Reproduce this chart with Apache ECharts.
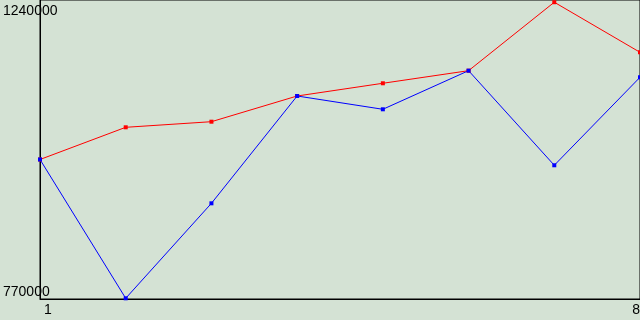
<!DOCTYPE html>
<html>
<head>
<meta charset="utf-8">
<script src="https://cdn.jsdelivr.net/npm/echarts@6/dist/echarts.min.js"></script>
<style>
html,body{margin:0;padding:0;background:#d4e2d4;}
#c{width:640px;height:320px;}
</style>
</head>
<body>
<div id="c"></div>
<script>
const xValues = [1, 2, 3, 4, 5, 6, 7, 8];
const redSeries = [989300, 1039900, 1048700, 1089100, 1109100, 1128900, 1236500, 1157800];
const blueSeries = [989300, 771100, 920400, 1089100, 1068200, 1128900, 980200, 1118500];
const yMin = 770000, yMax = 1240000;
const xMin = 1, xMax = 8;

const chart = echarts.init(document.getElementById('c'), null, {renderer: 'canvas'});
const font = '"Liberation Sans", Arial, sans-serif';
chart.setOption({
  animation: false,
  backgroundColor: '#d4e2d4',
  grid: {left: 40, top: 0, right: 0, bottom: 21, containLabel: false, outerBoundsMode: 'none',
         show: true, borderColor: '#000', borderWidth: 1, backgroundColor: 'transparent'},
  xAxis: {
    type: 'value', min: xMin, max: xMax, interval: xMax - xMin,
    axisLine: {show: true, onZero: false, lineStyle: {color: '#000', width: 1}},
    axisTick: {show: false}, splitLine: {show: false},
    axisLabel: {
      color: '#000', fontFamily: font, fontSize: 14, margin: 4,
      alignMinLabel: 'left', alignMaxLabel: 'right',
      formatter: v => v === xMin ? '{a|' + v + '}' : '{b|' + v + '}',
      rich: {a: {fontFamily: font, fontSize: 14, color: '#000', padding: [0, 0, 0, 4]}, b: {fontFamily: font, fontSize: 14, color: '#000'}}
    }
  },
  yAxis: {
    type: 'value', min: yMin, max: yMax, interval: yMax - yMin,
    axisLine: {show: true, onZero: false, lineStyle: {color: '#000', width: 1}},
    axisTick: {show: false}, splitLine: {show: false},
    axisLabel: {
      color: '#000', fontFamily: font, fontSize: 14, margin: 37, align: 'left',
      formatter: v => v === yMax ? '{t|' + v + '}' : '{b|' + v + '}',
      rich: {
        t: {fontFamily: font, fontSize: 14, lineHeight: 14, color: '#000', padding: [22, 0, 0, 0]},
        b: {fontFamily: font, fontSize: 14, lineHeight: 14, color: '#000', padding: [0, 0, 13, 0]}
      }
    }
  },
  series: [
    {type: 'line', data: xValues.map((x, i) => [x, redSeries[i]]), symbol: 'rect', symbolSize: 4,
     lineStyle: {color: '#ff0000', width: 1}, itemStyle: {color: '#ff0000'}, clip: false},
    {type: 'line', data: xValues.map((x, i) => [x, blueSeries[i]]), symbol: 'rect', symbolSize: 4,
     lineStyle: {color: '#0000ff', width: 1}, itemStyle: {color: '#0000ff'}, clip: false}
  ]
});
</script>
</body>
</html>
